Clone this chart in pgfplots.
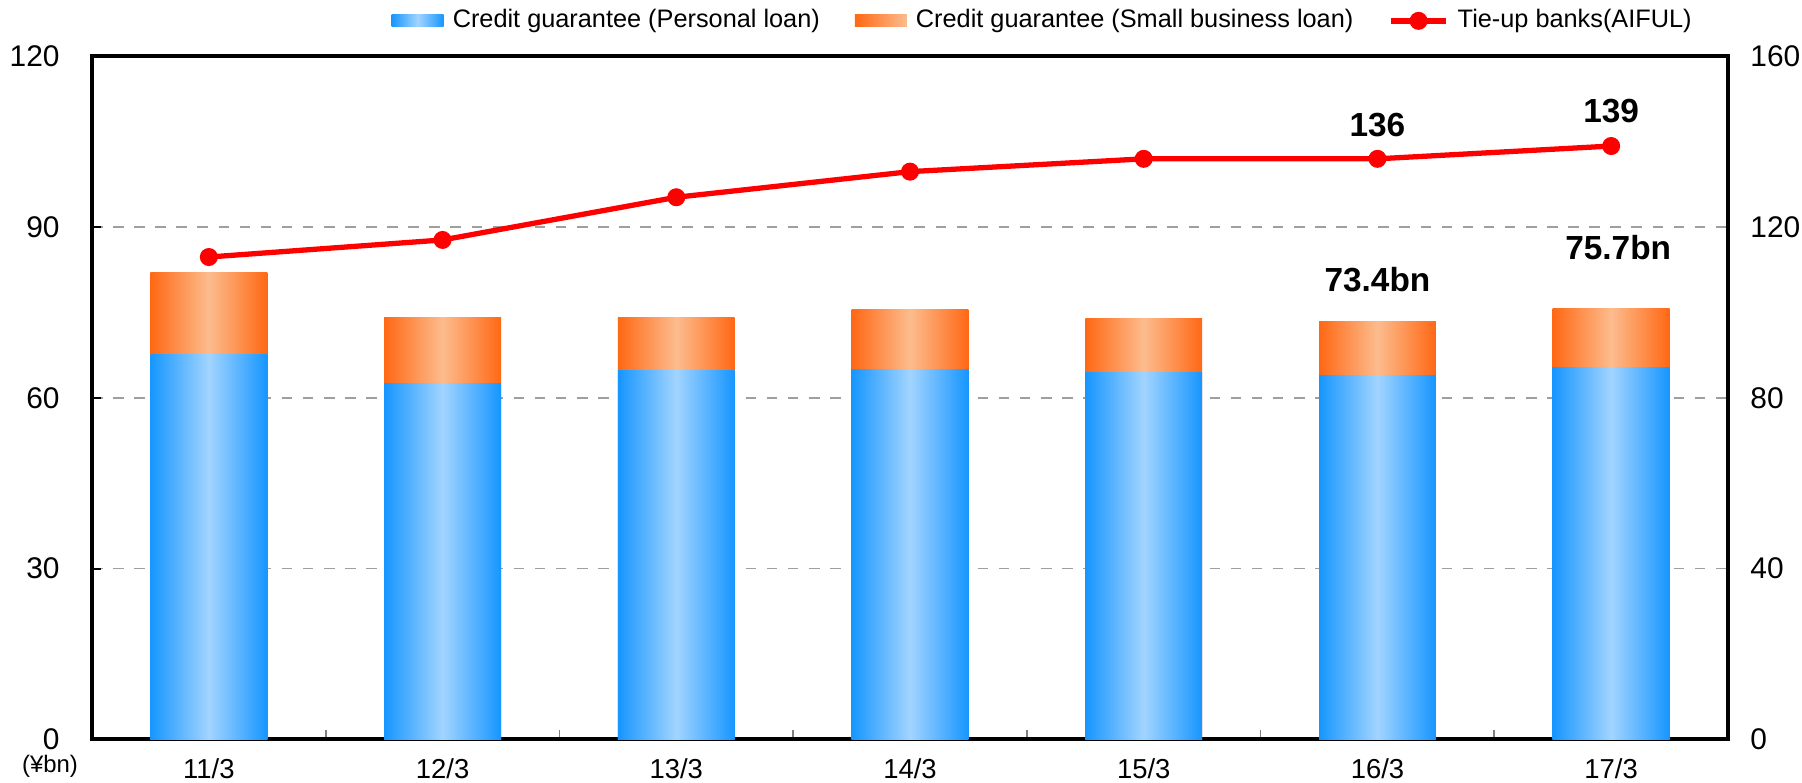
\documentclass[border=0pt]{standalone}
\usepackage{fontspec}
\setmainfont{Liberation Sans}
\usepackage{pgfplots}
\pgfplotsset{compat=1.18}
\definecolor{bEdge}{RGB}{22,150,255}
\definecolor{bMid}{RGB}{162,212,255}
\definecolor{oEdge}{RGB}{255,104,20}
\definecolor{oMid}{RGB}{252,188,142}
\begin{document}
\begin{tikzpicture}
\pgfplotsset{
  bluebar/.style={ybar, bar width=0.5, bar shift=0pt, draw=none, left color=bEdge, right color=bEdge, middle color=bMid, forget plot},
  orangebar/.style={ybar, bar width=0.5, bar shift=0pt, draw=none, left color=oEdge, right color=oEdge, middle color=oMid, forget plot},
}
\begin{axis}[
  width=16.36cm, height=6.83cm, scale only axis,
  xmin=-0.5, xmax=6.5, ymin=0, ymax=120,
  ytick={0,30,...,120},
  xtick={0,...,6},
  xticklabels={11/3,12/3,13/3,14/3,15/3,16/3,17/3},
  minor xtick={0.5,1.5,...,5.5},
  xtick pos=bottom, ytick pos=left,
  tick align=inside,
  major x tick style={draw=none},
  minor x tick style={gray, line width=0.5pt},
  major y tick style={black, line width=0.5pt},
  major tick length=0.9mm, minor tick length=0.9mm,
  ymajorgrids,
  grid style={dashed, gray!75, line width=0.4pt},
  axis line style={line width=1.1pt},
  /pgf/number format/assume math mode=true,
  yticklabel style={font=\fontsize{8.5}{9}\selectfont, xshift=-2.0mm},
  xticklabel style={font=\fontsize{7.8}{8}\selectfont, yshift=-0.7mm},
  clip=false,
]
% totals (orange, drawn first), then personal loan (blue) over them
\addplot[orangebar] coordinates {(0,82.0)};
\addplot[orangebar] coordinates {(1,74.1)};
\addplot[orangebar] coordinates {(2,74.2)};
\addplot[orangebar] coordinates {(3,75.5)};
\addplot[orangebar] coordinates {(4,73.9)};
\addplot[orangebar] coordinates {(5,73.4)};
\addplot[orangebar] coordinates {(6,75.7)};
\addplot[bluebar] coordinates {(0,67.6)};
\addplot[bluebar] coordinates {(1,62.6)};
\addplot[bluebar] coordinates {(2,64.8)};
\addplot[bluebar] coordinates {(3,65.0)};
\addplot[bluebar] coordinates {(4,64.5)};
\addplot[bluebar] coordinates {(5,64.0)};
\addplot[bluebar] coordinates {(6,65.4)};
\node[font=\bfseries\fontsize{9.5}{10}\selectfont] at (axis cs:5,80.7) {73.4bn};
\node[font=\bfseries\fontsize{9.5}{10}\selectfont] at (axis cs:6.03,86.4) {75.7bn};
\node[font=\fontsize{6.8}{7}\selectfont] at (axis cs:-0.5,0) [xshift=-4.2mm, yshift=-2.7mm] {(¥bn)};
\end{axis}
\begin{axis}[
  width=16.36cm, height=6.83cm, scale only axis,
  xmin=-0.5, xmax=6.5, ymin=0, ymax=160,
  axis x line=none, axis y line*=right,
  ytick={0,40,...,160},
  major tick length=0pt,
  axis line style={line width=1.1pt},
  /pgf/number format/assume math mode=true,
  yticklabel style={font=\fontsize{8.5}{9}\selectfont, xshift=1.0mm},
  clip=false,
  legend columns=3,
  legend image code/.code={\draw[#1, mark repeat=2, mark phase=2] plot coordinates {(0mm,0mm) (2.75mm,0mm) (5.5mm,0mm)};},
  legend style={draw=none, fill=none, at={(axis description cs:0.9825,1.052)}, anchor=east,
    font=\fontsize{7.2}{8}\selectfont, inner sep=0pt,
    /tikz/every even column/.append style={column sep=2.8mm},
    /tikz/every odd column/.append style={column sep=0.2mm}},
]
\addlegendimage{legend image code/.code={\path[draw=none, left color=bEdge, right color=bEdge, middle color=bMid] (0mm,-0.6mm) rectangle (5.2mm,0.6mm);}}
\addlegendentry{Credit guarantee (Personal loan)}
\addlegendimage{legend image code/.code={\path[draw=none, left color=oEdge, right color=oMid] (0mm,-0.6mm) rectangle (5.2mm,0.6mm);}}
\addlegendentry{Credit guarantee (Small business loan)}
\addplot[red, line width=1.5pt, mark=*, mark size=1.8pt, mark options={fill=red, draw=red}]
  coordinates {(0,113) (1,117) (2,127) (3,133) (4,136) (5,136) (6,139)};
\addlegendentry{Tie-up banks(AIFUL)}
\node[font=\bfseries\fontsize{9.5}{10}\selectfont] at (axis cs:5,144) {136};
\node[font=\bfseries\fontsize{9.5}{10}\selectfont] at (axis cs:6,147.3) {139};
\end{axis}
\pgfresetboundingbox
\path[use as bounding box] (-0.92cm,-0.436cm) rectangle (17.10cm,7.394cm);
\end{tikzpicture}
\end{document}
